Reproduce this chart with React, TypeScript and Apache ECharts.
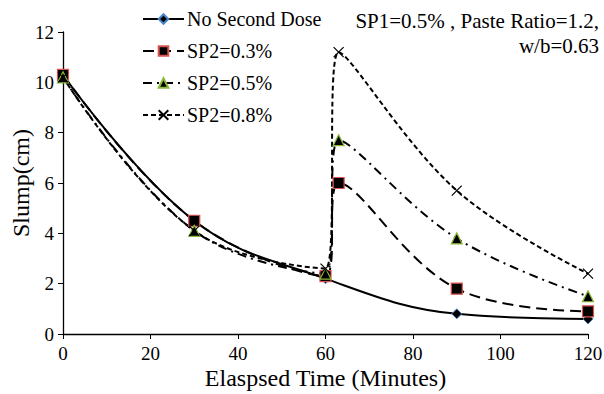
import React, { useEffect, useRef } from "react";
import * as echarts from "echarts";

const seriesNames = ["No Second Dose", "SP2=0.3%", "SP2=0.5%", "SP2=0.8%"];
const noDoseTime = [0, 30, 60, 90, 120];
const noDoseSlump = [10.3, 4.5, 2.2, 0.8, 0.6];
const secondDoseTime = [0, 30, 60, 63, 90, 120];
const sp03Slump = [10.3, 4.5, 2.3, 6.0, 1.8, 0.9];
const sp05Slump = [10.2, 4.1, 2.4, 7.7, 3.8, 1.5];
const sp08Slump = [10.2, 4.1, 2.6, 11.2, 5.7, 2.4];
const xTicks = [0, 20, 40, 60, 80, 100, 120];
const yTicks = [0, 2, 4, 6, 8, 10, 12];
const annotation1 = "SP1=0.5% , Paste Ratio=1.2,";
const annotation2 = "w/b=0.63";

const FONT = '"Liberation Serif", "Times New Roman", serif';

const pairs = (xs: number[], ys: number[]) => xs.map((x, i) => [x, ys[i]]);

export default function App() {
  const ref = useRef<HTMLDivElement>(null);
  useEffect(() => {
    if (!ref.current) return;
    const chart = echarts.init(ref.current, null, { renderer: "svg" });
    const xPath = "path://M0,0L10,10M10,0L0,10";
    chart.setOption({
      animation: false,
      backgroundColor: "#fff",
      textStyle: { fontFamily: FONT, color: "#000" },
      grid: { left: 63, right: 16, top: 32, bottom: 60, containLabel: false, outerBoundsMode: "none" },
      legend: {
        orient: "vertical",
        left: 137,
        top: 4,
        itemWidth: 41,
        itemHeight: 12,
        itemGap: 12,
        textStyle: { fontFamily: FONT, fontSize: 20, lineHeight: 20, color: "#000", padding: [0, 0, 0, -2] },
        data: seriesNames,
      },
      xAxis: {
        type: "value",
        min: xTicks[0],
        max: xTicks[xTicks.length - 1],
        interval: 20,
        name: "Elaspsed Time (Minutes)",
        nameLocation: "middle",
        nameGap: 32,
        nameMoveOverlap: false,
        nameTextStyle: { fontFamily: FONT, fontSize: 24, color: "#000" },
        axisLine: { lineStyle: { color: "#000", width: 1.3 } },
        axisTick: { show: true, inside: false, length: 5, lineStyle: { color: "#000" } },
        axisLabel: { fontFamily: FONT, fontSize: 19, color: "#000", margin: 10 },
        splitLine: { show: false },
      },
      yAxis: {
        type: "value",
        min: yTicks[0],
        max: yTicks[yTicks.length - 1],
        interval: 2,
        name: "Slump(cm)",
        nameLocation: "middle",
        nameRotate: 90,
        nameGap: 30,
        nameMoveOverlap: false,
        nameTextStyle: { fontFamily: FONT, fontSize: 24, color: "#000" },
        axisLine: { show: true, lineStyle: { color: "#000", width: 1.3 } },
        axisTick: { show: true, inside: false, length: 5, lineStyle: { color: "#000" } },
        axisLabel: { fontFamily: FONT, fontSize: 19, color: "#000", margin: 9 },
        splitLine: { show: false },
      },
      graphic: [
        {
          type: "text",
          right: 5,
          top: 10,
          style: { text: annotation1, fontFamily: FONT, fontSize: 21, fill: "#000" },
        },
        {
          type: "text",
          right: 5,
          top: 35,
          style: { text: annotation2, fontFamily: FONT, fontSize: 21, fill: "#000" },
        },
      ],
      series: [
        {
          name: seriesNames[0],
          type: "line",
          smooth: 0.4,
          data: pairs(noDoseTime, noDoseSlump),
          symbol: "diamond",
          symbolSize: 10,
          lineStyle: { color: "#000", width: 2, type: "solid" },
          itemStyle: { color: "#000", borderColor: "#4a86c8", borderWidth: 1 },
        },
        {
          name: seriesNames[1],
          type: "line",
          smooth: 0.4,
          data: pairs(secondDoseTime, sp03Slump),
          symbol: "rect",
          symbolSize: 11,
          lineStyle: { color: "#000", width: 2, type: [11, 6] },
          itemStyle: { color: "#000", borderColor: "#d9534f", borderWidth: 1.2 },
        },
        {
          name: seriesNames[2],
          type: "line",
          smooth: 0.4,
          data: pairs(secondDoseTime, sp05Slump),
          symbol: "triangle",
          symbolSize: 11,
          lineStyle: { color: "#000", width: 2, type: [9, 5, 2, 5] },
          itemStyle: { color: "#000", borderColor: "#8ab83a", borderWidth: 1.2 },
        },
        {
          name: seriesNames[3],
          type: "line",
          smooth: 0.4,
          data: pairs(secondDoseTime, sp08Slump),
          symbol: xPath,
          symbolSize: 10,
          lineStyle: { color: "#000", width: 2, type: [5, 3] },
          itemStyle: { color: "none", borderColor: "#000", borderWidth: 1.2 },
        },
      ],
    });
    return () => chart.dispose();
  }, []);
  return <div ref={ref} style={{ width: 604, height: 394, position: "absolute", left: 0, top: 0 }} />;
}
